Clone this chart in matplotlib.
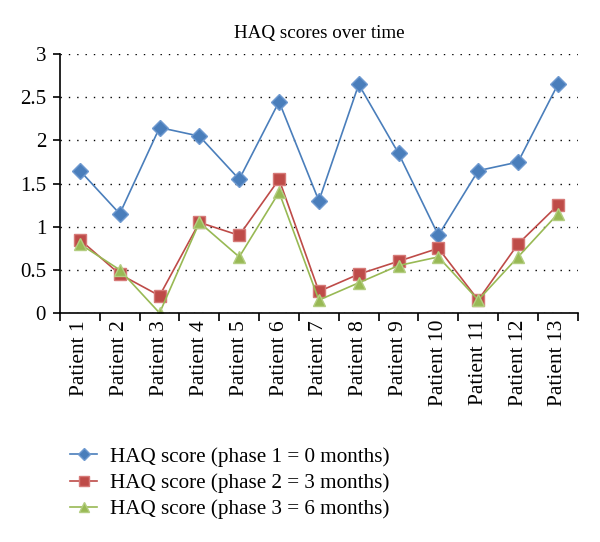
import numpy as np
import matplotlib
matplotlib.use("Agg")
import matplotlib.pyplot as plt

# Data
patients = [f"Patient {i}" for i in range(1, 14)]
phase1 = [1.65, 1.15, 2.15, 2.05, 1.55, 2.45, 1.30, 2.65, 1.85, 0.90, 1.65, 1.75, 2.65]
phase2 = [0.85, 0.45, 0.20, 1.05, 0.90, 1.55, 0.25, 0.45, 0.60, 0.75, 0.15, 0.80, 1.25]
phase3 = [0.80, 0.50, 0.00, 1.05, 0.65, 1.40, 0.15, 0.35, 0.55, 0.65, 0.15, 0.65, 1.15]
labels = ["HAQ score (phase 1 = 0 months)",
          "HAQ score (phase 2 = 3 months)",
          "HAQ score (phase 3 = 6 months)"]
y_ticks = [0, 0.5, 1, 1.5, 2, 2.5, 3]
y_tick_labels = ["0", "0.5", "1", "1.5", "2", "2.5", "3"]

plt.rcParams['font.family'] = ['Liberation Serif', 'DejaVu Serif']

fig = plt.figure(figsize=(6, 5.42), dpi=100)
ax = fig.add_axes([0.1, 0.4225, 0.863, 0.4775])

x = np.arange(len(patients))
styles = [
    (phase1, "#4A7EBB", "#6F9AD0", "D", 8),
    (phase2, "#BE4B48", "#D67A78", "s", 9),
    (phase3, "#98B954", "#B3CD80", "^", 9),
]
for (vals, col, edge, mk, ms), lab in zip(styles, labels):
    ax.plot(x, vals, color=col, marker=mk, markersize=ms,
            markeredgecolor=edge, linewidth=1.2, label=lab)

ax.set_xlim(-0.5, len(patients) - 0.5)
ax.set_ylim(0, 3)
ax.set_yticks(y_ticks)
ax.set_yticklabels(y_tick_labels, fontsize=15)
ax.set_xticks(x)
ax.set_xticklabels(patients, rotation=90, fontsize=15.5)
ax.tick_params(axis='x', length=0, pad=5)
ax.set_xticks(np.arange(-0.5, len(patients), 1), minor=True)
ax.tick_params(axis='x', which='minor', length=6, width=1.2, direction='out')
ax.tick_params(axis='y', length=5, width=1.2, direction='out', pad=5)

ax.yaxis.grid(True, linestyle=(0, (1, 5)), color="black", linewidth=1)
ax.set_axisbelow(True)
for side in ["top", "right"]:
    ax.spines[side].set_visible(False)
for side in ["left", "bottom"]:
    ax.spines[side].set_linewidth(1.2)

ax.set_title("HAQ scores over time", fontsize=13.7, pad=12)

handles, _ = ax.get_legend_handles_labels()
leg = fig.legend(handles, labels, loc="upper left",
                 bbox_to_anchor=(70 / 600, 1 - 447 / 542),
                 bbox_transform=fig.transFigure, frameon=False, fontsize=15.2,
                 handlelength=1.3, handletextpad=0.6, labelspacing=0.3,
                 borderpad=0, borderaxespad=0, markerscale=0.8)

fig.savefig("out.png", dpi=100)
